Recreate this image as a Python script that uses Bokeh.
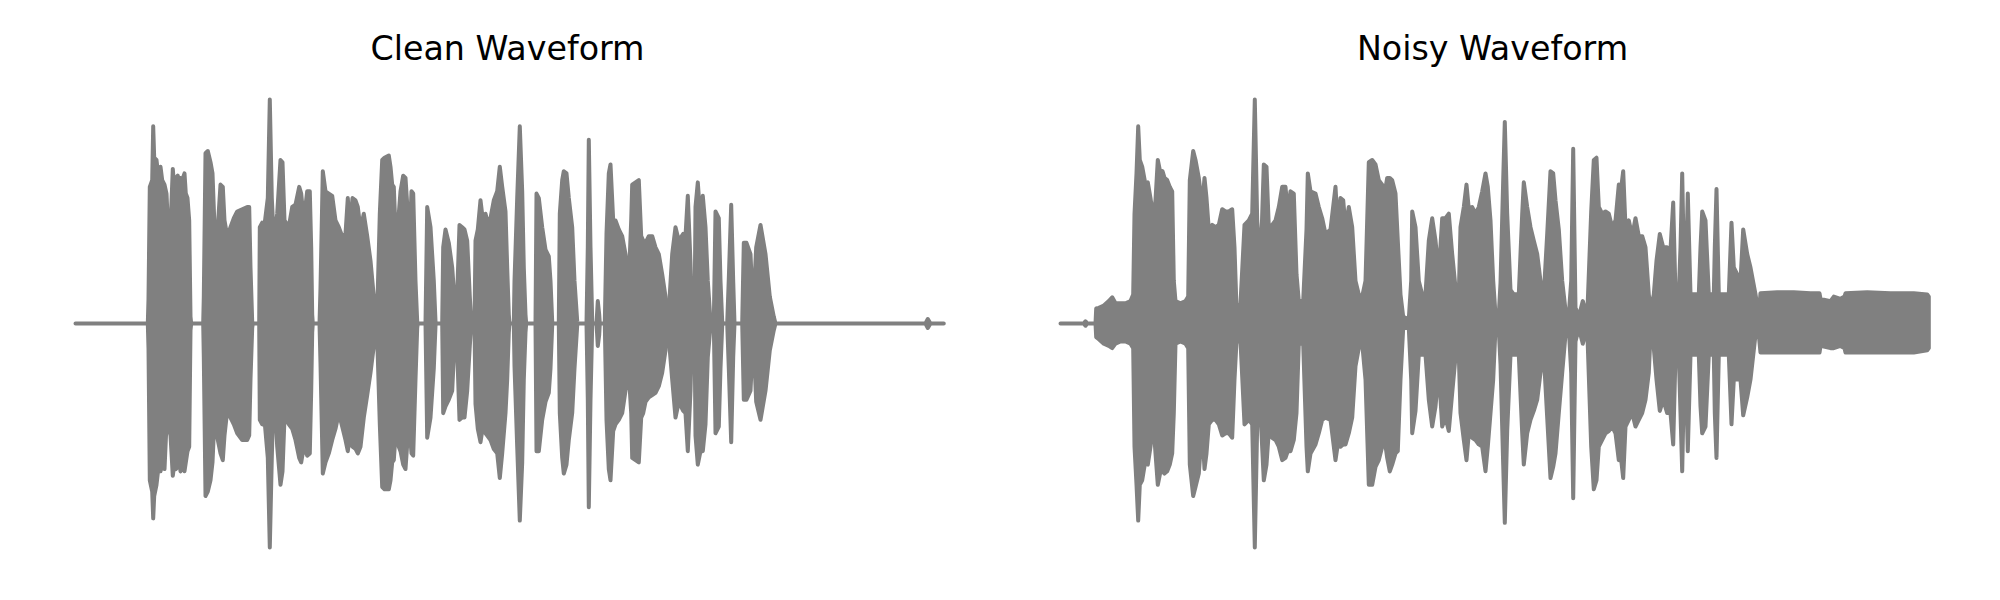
from bokeh.plotting import figure
from bokeh.layouts import row
from bokeh.embed import file_html
from bokeh.resources import INLINE
from bokeh.models import Range1d

titles = ["Clean Waveform", "Noisy Waveform"]

# ---- Clean waveform envelope (time in s, positive peak, negative peak) ----
clean_t = [0.000, 0.723, 0.730, 0.743, 0.767, 0.777, 0.787, 0.810, 0.833, 0.850, 0.867, 0.890, 0.910, 0.923, 0.950,
           0.973, 0.990, 1.003, 1.023, 1.037, 1.050, 1.067, 1.090, 1.103, 1.120, 1.137, 1.150, 1.157,
           1.277, 1.283, 1.300, 1.323, 1.350, 1.370, 1.390, 1.423, 1.450, 1.473, 1.490, 1.517, 1.550, 1.583,
           1.617, 1.667, 1.717, 1.737, 1.750, 1.767, 1.773,
           1.837, 1.843, 1.867, 1.890, 1.923, 1.943, 1.963, 1.983, 2.017, 2.050, 2.070, 2.090, 2.133, 2.167,
           2.200, 2.237, 2.257, 2.283, 2.317, 2.343, 2.357, 2.367, 2.373,
           2.440, 2.450, 2.473, 2.500, 2.533, 2.567, 2.600, 2.633, 2.667, 2.700, 2.723, 2.743, 2.770, 2.800,
           2.823, 2.850, 2.883, 2.917, 2.950, 2.983, 3.000, 3.010,
           3.023, 3.043, 3.067, 3.090, 3.133, 3.150, 3.167, 3.183, 3.200, 3.217, 3.233, 3.250, 3.277, 3.300,
           3.323, 3.343, 3.360, 3.377, 3.400, 3.417, 3.423,
           3.500, 3.517, 3.550, 3.583, 3.600, 3.607,
           3.667, 3.677, 3.700, 3.733, 3.767, 3.783, 3.817, 3.840, 3.867, 3.890, 3.917, 3.943, 3.957, 3.963,
           3.990, 4.000, 4.023, 4.050, 4.077, 4.100, 4.117, 4.150, 4.183, 4.217, 4.243, 4.267, 4.300, 4.317,
           4.333, 4.340,
           4.383, 4.390, 4.417, 4.443, 4.467, 4.483, 4.500, 4.507,
           4.600, 4.610, 4.633, 4.667, 4.700, 4.733, 4.750, 4.767, 4.773,
           4.833, 4.843, 4.867, 4.883, 4.910, 4.933, 4.967, 4.990, 5.017, 5.023,
           5.110, 5.123, 5.133, 5.150, 5.167, 5.173,
           5.210, 5.223, 5.237, 5.243,
           5.293, 5.310, 5.333, 5.350, 5.377, 5.400, 5.433, 5.467, 5.500, 5.533, 5.557, 5.567, 5.600, 5.633,
           5.657, 5.677, 5.700, 5.733, 5.767, 5.800, 5.833, 5.867, 5.900, 5.917, 5.927,
           5.933, 5.943, 5.967, 6.000, 6.033, 6.077, 6.100, 6.123, 6.150, 6.167, 6.177,
           6.190, 6.200, 6.223, 6.250, 6.273, 6.300, 6.323, 6.350, 6.360,
           6.383, 6.400, 6.433, 6.450, 6.467, 6.477,
           6.517, 6.533, 6.557, 6.577, 6.590,
           6.667, 6.683, 6.710, 6.750, 6.777, 6.783, 6.807, 6.850, 6.900, 6.943, 6.983, 7.000,
           8.500, 8.523, 8.550, 8.683]
clean_upper = [0, 0, 0.11, 0.61, 0.64, 0.88, 0.74, 0.73, 0.64, 0.70, 0.64, 0.62, 0.58, 0.45, 0.43,
               0.69, 0.59, 0.65, 0.66, 0.61, 0.65, 0.64, 0.67, 0.58, 0.56, 0.46, 0.03, 0,
               0, 0.12, 0.76, 0.77, 0.72, 0.67, 0.43, 0.43, 0.62, 0.61, 0.46, 0.39, 0.43, 0.47,
               0.50, 0.51, 0.52, 0.52, 0.25, 0.01, 0,
               0, 0.43, 0.45, 0.44, 0.56, 1.00, 0.56, 0.37, 0.49, 0.73, 0.72, 0.46, 0.43, 0.52,
               0.53, 0.61, 0.58, 0.46, 0.59, 0.59, 0.34, 0.04, 0,
               0, 0.16, 0.68, 0.59, 0.58, 0.57, 0.46, 0.43, 0.39, 0.40, 0.56, 0.42, 0.56, 0.55,
               0.52, 0.42, 0.49, 0.39, 0.28, 0.12, 0.01, 0,
               0.15, 0.49, 0.73, 0.74, 0.75, 0.70, 0.62, 0.61, 0.42, 0.39, 0.49, 0.59, 0.66, 0.65,
               0.49, 0.39, 0.59, 0.58, 0.19, 0.01, 0,
               0, 0.52, 0.43, 0.19, 0.01, 0,
               0, 0.34, 0.42, 0.36, 0.25, 0.15, 0.13, 0.44, 0.43, 0.42, 0.37, 0.12, 0.01, 0,
               0, 0.37, 0.42, 0.55, 0.45, 0.49, 0.46, 0.47, 0.55, 0.59, 0.70, 0.61, 0.50, 0.25,
               0.04, 0,
               0, 0.19, 0.56, 0.88, 0.59, 0.25, 0.04, 0,
               0, 0.58, 0.56, 0.43, 0.33, 0.30, 0.19, 0.01, 0,
               0, 0.49, 0.64, 0.68, 0.67, 0.56, 0.43, 0.19, 0.01, 0,
               0, 0.34, 0.82, 0.34, 0.01, 0,
               0, 0.10, 0.04, 0,
               0, 0.40, 0.67, 0.71, 0.46, 0.46, 0.42, 0.39, 0.31, 0.19, 0.46, 0.62, 0.63, 0.64,
               0.39, 0.37, 0.36, 0.39, 0.39, 0.34, 0.31, 0.22, 0.12, 0.01, 0,
               0, 0.13, 0.31, 0.43, 0.37, 0.40, 0.39, 0.57, 0.27, 0.01, 0,
               0, 0.52, 0.63, 0.46, 0.57, 0.43, 0.19, 0.01, 0,
               0, 0.50, 0.47, 0.19, 0.01, 0,
               0, 0.20, 0.53, 0.19, 0,
               0, 0.36, 0.36, 0.31, 0.04, 0.12, 0.34, 0.44, 0.31, 0.12, 0.03, 0,
               0, 0.02, 0, 0]
clean_lower = [0, 0, -0.11, -0.70, -0.75, -0.87, -0.77, -0.72, -0.63, -0.66, -0.62, -0.65, -0.45, -0.44, -0.50,
               -0.68, -0.62, -0.65, -0.64, -0.60, -0.66, -0.64, -0.66, -0.62, -0.57, -0.55, -0.03, 0,
               0, -0.15, -0.77, -0.75, -0.70, -0.62, -0.42, -0.52, -0.58, -0.61, -0.50, -0.39, -0.42, -0.45,
               -0.49, -0.52, -0.52, -0.50, -0.25, -0.02, 0,
               0, -0.43, -0.45, -0.43, -0.60, -1.00, -0.60, -0.26, -0.55, -0.72, -0.66, -0.42, -0.45, -0.47,
               -0.52, -0.60, -0.62, -0.55, -0.59, -0.58, -0.30, -0.04, 0,
               0, -0.18, -0.67, -0.62, -0.58, -0.52, -0.47, -0.40, -0.46, -0.52, -0.57, -0.50, -0.55, -0.56,
               -0.58, -0.55, -0.42, -0.32, -0.22, -0.10, -0.01, 0,
               -0.15, -0.45, -0.73, -0.74, -0.74, -0.70, -0.62, -0.61, -0.50, -0.45, -0.55, -0.57, -0.63, -0.65,
               -0.50, -0.48, -0.58, -0.59, -0.25, -0.02, 0,
               0, -0.51, -0.42, -0.20, -0.01, 0,
               0, -0.40, -0.37, -0.34, -0.30, -0.15, -0.12, -0.43, -0.42, -0.42, -0.30, -0.10, -0.01, 0,
               0, -0.36, -0.47, -0.53, -0.45, -0.49, -0.50, -0.52, -0.56, -0.58, -0.69, -0.58, -0.40, -0.25,
               -0.04, 0,
               0, -0.19, -0.55, -0.88, -0.62, -0.25, -0.04, 0,
               0, -0.57, -0.57, -0.43, -0.35, -0.31, -0.20, -0.01, 0,
               0, -0.40, -0.60, -0.67, -0.63, -0.52, -0.40, -0.20, -0.01, 0,
               0, -0.34, -0.82, -0.34, -0.01, 0,
               0, -0.10, -0.05, 0,
               0, -0.43, -0.65, -0.70, -0.48, -0.45, -0.43, -0.40, -0.30, -0.22, -0.40, -0.60, -0.61, -0.62,
               -0.42, -0.40, -0.35, -0.33, -0.32, -0.31, -0.28, -0.22, -0.12, -0.01, 0,
               0, -0.12, -0.25, -0.42, -0.35, -0.39, -0.40, -0.57, -0.30, -0.01, 0,
               0, -0.50, -0.63, -0.57, -0.57, -0.45, -0.15, -0.01, 0,
               0, -0.49, -0.46, -0.20, -0.01, 0,
               0, -0.20, -0.53, -0.15, 0,
               0, -0.34, -0.34, -0.30, -0.05, -0.10, -0.35, -0.43, -0.30, -0.12, -0.03, 0,
               0, -0.02, 0, 0]

# ---- Noisy waveform envelope ----
noisy_t = [0.000, 0.233, 0.250, 0.267, 0.350, 0.357, 0.383, 0.433, 0.483, 0.517, 0.550, 0.600, 0.650, 0.700, 0.727,
           0.740, 0.760, 0.777, 0.793, 0.817, 0.850, 0.873, 0.900, 0.927, 0.950, 0.973, 1.000, 1.020, 1.040,
           1.067, 1.093, 1.117, 1.133, 1.150, 1.200, 1.250, 1.277,
           1.293, 1.327, 1.350, 1.383, 1.417, 1.440, 1.460, 1.483, 1.517, 1.550, 1.583, 1.617, 1.650, 1.683,
           1.717, 1.740, 1.760, 1.800,
           1.840, 1.883, 1.917, 1.943, 1.967, 2.000, 2.033, 2.060, 2.083, 2.117, 2.150, 2.183, 2.217, 2.250,
           2.273, 2.300, 2.333, 2.360, 2.383, 2.427,
           2.460, 2.473, 2.500, 2.550, 2.583, 2.617, 2.650, 2.700, 2.750, 2.773, 2.800, 2.827, 2.850, 2.883,
           2.917, 2.950, 2.983, 3.017,
           3.050, 3.083, 3.117, 3.150, 3.183, 3.217, 3.233, 3.267, 3.293, 3.317, 3.350, 3.373, 3.400, 3.427,
           3.483,
           3.507, 3.517, 3.550, 3.583, 3.617, 3.650,
           3.683, 3.717, 3.750, 3.783, 3.817, 3.850, 3.883, 3.917, 3.950, 3.983,
           4.000, 4.033, 4.060, 4.083, 4.117, 4.150, 4.183, 4.217, 4.250, 4.273, 4.300, 4.327, 4.350, 4.383,
           4.400, 4.427, 4.443, 4.467, 4.500, 4.533, 4.583,
           4.617, 4.633, 4.667, 4.700, 4.733, 4.767, 4.800, 4.833,
           4.867, 4.900, 4.927, 4.950, 4.983, 5.017, 5.050, 5.083,
           5.107, 5.127, 5.150, 5.183, 5.223, 5.267,
           5.307, 5.333, 5.360, 5.383, 5.417, 5.450, 5.483, 5.517, 5.550, 5.583, 5.600, 5.627, 5.650, 5.683,
           5.717, 5.750, 5.783, 5.817, 5.850, 5.883, 5.900,
           5.933, 5.960, 5.993, 6.027, 6.067, 6.100, 6.127, 6.150, 6.183,
           6.200, 6.217, 6.240, 6.260, 6.273, 6.300, 6.383, 6.400, 6.417, 6.450, 6.483, 6.533, 6.543, 6.560,
           6.583, 6.683, 6.710, 6.733, 6.800, 6.827, 6.867, 6.900, 6.950, 6.983,
           7.000, 7.167, 7.333, 7.500, 7.590, 7.600, 7.700, 7.733, 7.800, 7.840, 7.850, 8.067, 8.300, 8.533,
           8.667, 8.683]
noisy_upper = [0, 0, 0.01, 0, 0, 0.067, 0.07, 0.08, 0.10, 0.117, 0.09, 0.09, 0.09, 0.10, 0.13,
               0.49, 0.67, 0.88, 0.73, 0.70, 0.62, 0.63, 0.56, 0.47, 0.55, 0.73, 0.67, 0.68, 0.65,
               0.64, 0.61, 0.59, 0.19, 0.10, 0.09, 0.10, 0.12,
               0.64, 0.77, 0.73, 0.65, 0.52, 0.65, 0.56, 0.42, 0.44, 0.43, 0.44, 0.51, 0.50, 0.50,
               0.51, 0.34, 0.07, 0.09,
               0.44, 0.46, 0.49, 1.00, 0.46, 0.25, 0.71, 0.70, 0.43, 0.44, 0.46, 0.52, 0.61, 0.61,
               0.49, 0.59, 0.58, 0.22, 0.10, 0.10,
               0.42, 0.67, 0.59, 0.58, 0.52, 0.47, 0.40, 0.42, 0.61, 0.43, 0.56, 0.55, 0.43, 0.52,
               0.43, 0.19, 0.13, 0.12,
               0.19, 0.72, 0.73, 0.71, 0.64, 0.62, 0.56, 0.65, 0.65, 0.64, 0.58, 0.37, 0.13, 0.03,
               0.02,
               0.19, 0.50, 0.43, 0.19, 0.13, 0.13,
               0.37, 0.47, 0.37, 0.22, 0.47, 0.47, 0.49, 0.31, 0.16, 0.13,
               0.43, 0.52, 0.62, 0.51, 0.52, 0.49, 0.52, 0.59, 0.67, 0.61, 0.46, 0.19, 0.04, 0.04,
               0.18, 0.64, 0.90, 0.49, 0.15, 0.13, 0.13,
               0.49, 0.63, 0.52, 0.43, 0.37, 0.31, 0.19, 0.13,
               0.40, 0.68, 0.67, 0.55, 0.42, 0.19, 0.06, 0.04,
               0.19, 0.78, 0.07, 0.03, 0.10, 0.03,
               0.50, 0.73, 0.74, 0.52, 0.49, 0.50, 0.49, 0.43, 0.46, 0.62, 0.58, 0.68, 0.43, 0.46,
               0.39, 0.47, 0.39, 0.39, 0.34, 0.13, 0.06,
               0.13, 0.28, 0.40, 0.34, 0.34, 0.33, 0.54, 0.13, 0.13,
               0.34, 0.67, 0.13, 0.34, 0.58, 0.13, 0.13, 0.34, 0.50, 0.46, 0.13, 0.13, 0.34, 0.60,
               0.13, 0.13, 0.45, 0.25, 0.19, 0.42, 0.31, 0.25, 0.13, 0.04,
               0.135, 0.14, 0.14, 0.135, 0.135, 0.11, 0.10, 0.12, 0.11, 0.12, 0.135, 0.14, 0.135, 0.135,
               0.13, 0.12]
noisy_lower = [0, 0, -0.01, 0, 0, -0.061, -0.07, -0.09, -0.10, -0.11, -0.09, -0.08, -0.08, -0.09, -0.11,
               -0.55, -0.72, -0.88, -0.72, -0.70, -0.61, -0.63, -0.55, -0.43, -0.58, -0.72, -0.66, -0.66, -0.67,
               -0.66, -0.63, -0.58, -0.40, -0.09, -0.08, -0.09, -0.11,
               -0.63, -0.77, -0.73, -0.67, -0.46, -0.65, -0.58, -0.45, -0.43, -0.43, -0.45, -0.50, -0.49, -0.49,
               -0.51, -0.25, -0.08, -0.08,
               -0.45, -0.43, -0.45, -1.00, -0.45, -0.40, -0.70, -0.63, -0.48, -0.51, -0.52, -0.55, -0.61, -0.60,
               -0.57, -0.57, -0.52, -0.40, -0.09, -0.09,
               -0.55, -0.66, -0.58, -0.54, -0.49, -0.43, -0.42, -0.43, -0.61, -0.54, -0.55, -0.54, -0.54, -0.49,
               -0.42, -0.19, -0.11, -0.09,
               -0.25, -0.72, -0.72, -0.64, -0.61, -0.55, -0.49, -0.60, -0.66, -0.63, -0.58, -0.57, -0.25, -0.02,
               -0.02,
               -0.25, -0.49, -0.39, -0.14, -0.14, -0.14,
               -0.34, -0.46, -0.37, -0.21, -0.46, -0.42, -0.48, -0.31, -0.15, -0.14,
               -0.40, -0.52, -0.61, -0.49, -0.51, -0.52, -0.54, -0.55, -0.66, -0.55, -0.40, -0.25, -0.02, -0.03,
               -0.18, -0.63, -0.89, -0.48, -0.14, -0.14, -0.14,
               -0.49, -0.63, -0.49, -0.43, -0.39, -0.34, -0.22, -0.14,
               -0.42, -0.69, -0.64, -0.58, -0.40, -0.22, -0.05, -0.02,
               -0.22, -0.78, -0.08, -0.02, -0.09, -0.02,
               -0.55, -0.74, -0.70, -0.55, -0.52, -0.49, -0.48, -0.46, -0.49, -0.61, -0.58, -0.69, -0.46, -0.43,
               -0.40, -0.46, -0.43, -0.40, -0.34, -0.22, -0.05,
               -0.11, -0.25, -0.39, -0.34, -0.40, -0.40, -0.54, -0.14, -0.14,
               -0.40, -0.66, -0.14, -0.34, -0.57, -0.14, -0.14, -0.37, -0.49, -0.46, -0.14, -0.14, -0.40, -0.60,
               -0.14, -0.14, -0.45, -0.25, -0.25, -0.41, -0.33, -0.25, -0.05, -0.05,
               -0.13, -0.13, -0.13, -0.13, -0.13, -0.10, -0.11, -0.11, -0.10, -0.11, -0.13, -0.13, -0.13, -0.13,
               -0.12, -0.11]

WAVE_COLOR = "#808080"


def make_panel(title, t, upper, lower, x_start, x_end, border_left):
    p = figure(width=992, height=584, output_backend="svg", toolbar_location=None,
               x_axis_type=None, y_axis_type=None,
               x_range=Range1d(x_start, x_end), y_range=Range1d(-1.1652, 1.1071),
               min_border_left=border_left, min_border_right=0, min_border_bottom=0, min_border_top=75,
               title=title)
    p.outline_line_color = None
    p.background_fill_color = "white"
    p.border_fill_color = "white"
    p.title.align = "center"
    p.title.text_font = "DejaVu Sans"
    p.title.text_font_size = "33.3px"
    p.title.text_font_style = "normal"
    p.title.text_color = "black"
    p.title.standoff = 15
    xs = list(t) + list(t)[::-1]
    ys = list(upper) + list(lower)[::-1]
    p.patch(xs, ys, fill_color=WAVE_COLOR, line_color=WAVE_COLOR, line_width=4, line_join="round")
    return p


p1 = make_panel(titles[0], clean_t, clean_upper, clean_lower, -0.53, 9.17, 22)
p2 = make_panel(titles[1], noisy_t, noisy_upper, noisy_lower, -0.60, 9.24, 8)

layout = row(p1, p2)
open("out.html", "w").write(file_html(layout, INLINE))
